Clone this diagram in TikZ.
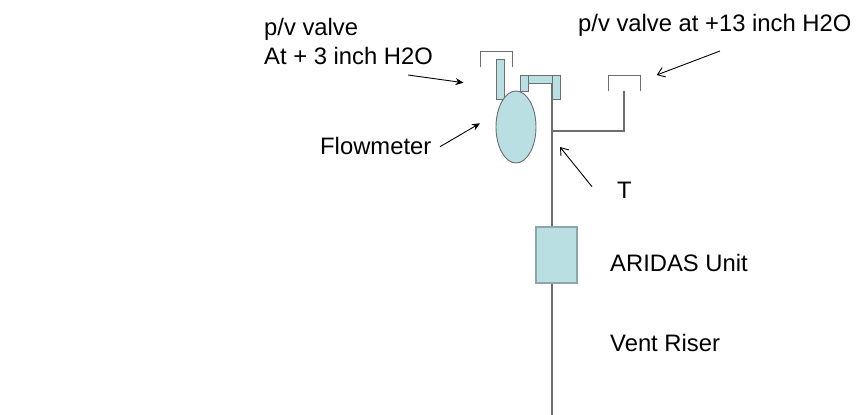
\documentclass[tikz,border=0pt]{standalone}
\usepackage{fontspec}
\setmainfont{Liberation Sans}
\usetikzlibrary{arrows.meta,shapes.geometric}
\definecolor{fillc}{HTML}{B9DFE3}
\definecolor{linec}{HTML}{6E6E6E}
\definecolor{boxline}{HTML}{8BA7AB}
\tikzset{
  lab/.style={inner sep=0pt,anchor=base west,font=\fontsize{23.8}{28}\selectfont,align=left},
  part/.style={draw=linec,fill=fillc,line width=0.9pt,inner sep=0pt,outer sep=0pt},
  pipe/.style={draw=linec,line width=1.1pt},
  call/.style={draw=black,line width=0.9pt,-{Stealth[length=8pt,width=7pt]}},
  callopen/.style={draw=black,line width=0.9pt,-{Straight Barb[length=7pt,width=10pt]}}
}
\begin{document}
\begin{tikzpicture}[x=1pt,y=-1pt]
\useasboundingbox (0,0) rectangle (857,415);
% pipe
\coordinate (top) at (552,75);
\coordinate (bottom) at (552,415);
\coordinate (tee) at (552,131);
\coordinate (elbow) at (624,131);
\coordinate (rend) at (624,91);
\draw[pipe] (top) -- (bottom);
\draw[pipe] (tee) -- (elbow) -- (rend);
% caps
\coordinate (c1a) at (480,66.5); \coordinate (c1b) at (480,51); \coordinate (c1c) at (512,51); \coordinate (c1d) at (512,66.5);
\draw[pipe,line width=0.9pt] (c1a) -- (c1b) -- (c1c) -- (c1d);
\coordinate (c2a) at (608,91); \coordinate (c2b) at (608,75); \coordinate (c2c) at (640,75); \coordinate (c2d) at (640,91);
\draw[pipe,line width=0.9pt] (c2a) -- (c2b) -- (c2c) -- (c2d);
% parts
\node[part,minimum width=8pt,minimum height=40pt] (tube) at (500,79) {};
\node[part,minimum width=8pt,minimum height=16pt] (sb) at (524,83) {};
\node[part,minimum width=24pt,minimum height=8pt] (bar) at (540,79) {};
\node[part,minimum width=8pt,minimum height=24pt] (rb) at (556,87) {};
\node[part,ellipse,minimum width=40pt,minimum height=72pt] (flow) at (516,127) {};
\node[draw=boxline,fill=fillc,line width=2pt,inner sep=0pt,minimum width=41pt,minimum height=56pt] (aridas) at (556,254.5) {};
% labels
\node[lab] (l1) at (264,35) {p/v valve};
\node[lab] (l2) at (264,64) {At + 3 inch H2O};
\node[lab] (l3) at (578,31) {p/v valve at +13 inch H2O};
\node[lab] (l4) at (320,154) {Flowmeter};
\node[lab] (l5) at (617,198) {T};
\node[lab] (l6) at (610,271) {ARIDAS Unit};
\node[lab] (l7) at (610,351.5) {Vent Riser};
% arrows
\coordinate (a1s) at (408,75); \coordinate (a1e) at (463.5,82.7);
\coordinate (a2s) at (440,146.7); \coordinate (a2e) at (480,123.3);
\coordinate (a3s) at (720,51); \coordinate (a3e) at (656.7,75);
\coordinate (a4s) at (592,186.7); \coordinate (a4e) at (560,147);
\draw[call] (a1s) -- (a1e);
\draw[call] (a2s) -- (a2e);
\draw[callopen] (a3s) -- (a3e);
\draw[callopen] (a4s) -- (a4e);
\end{tikzpicture}
\end{document}
